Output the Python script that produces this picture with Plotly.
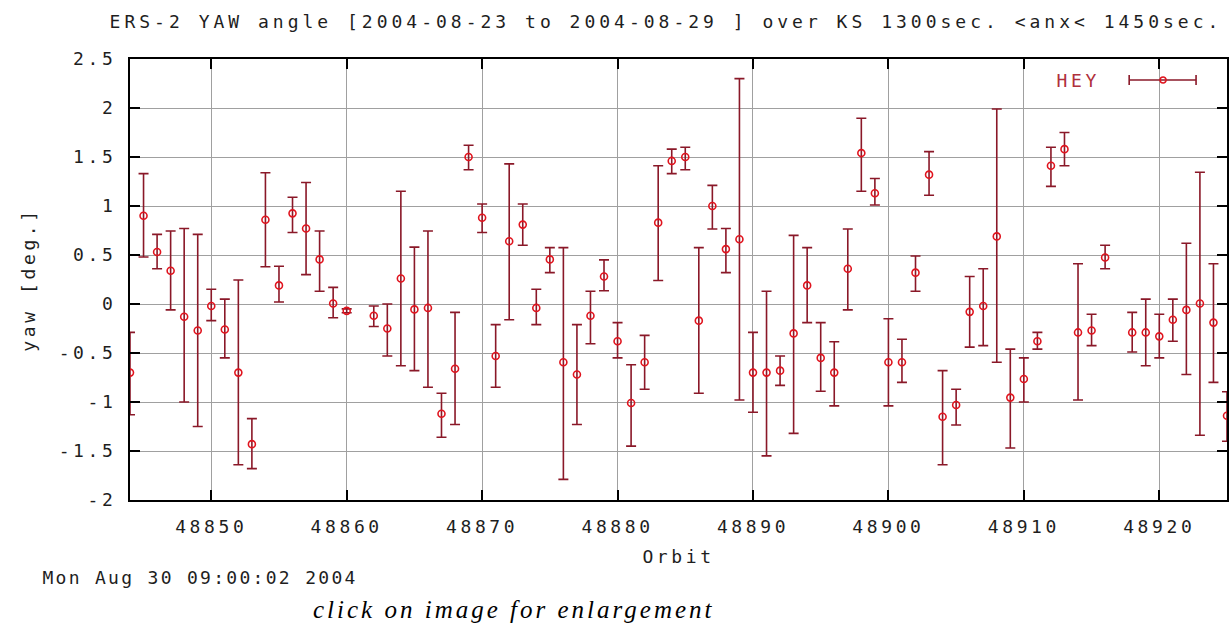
import plotly.graph_objects as go

# ---- data ----
orbits = [48844, 48845, 48846, 48847, 48848, 48849, 48850, 48851, 48852, 48853,
          48854, 48855, 48856, 48857, 48858, 48859, 48860, 48862, 48863, 48864,
          48865, 48866, 48867, 48868, 48869, 48870, 48871, 48872, 48873, 48874,
          48875, 48876, 48877, 48878, 48879, 48880, 48881, 48882, 48883, 48884,
          48885, 48886, 48887, 48888, 48889, 48890, 48891, 48892, 48893, 48894,
          48895, 48896, 48897, 48898, 48899, 48900, 48901, 48902, 48903, 48904,
          48905, 48906, 48907, 48908, 48909, 48910, 48911, 48912, 48913, 48914,
          48915, 48916, 48918, 48919, 48920, 48921, 48922, 48923, 48924, 48925]

yaw = [-0.70, 0.90, 0.53, 0.34, -0.13, -0.27, -0.02, -0.26, -0.70, -1.43,
       0.86, 0.19, 0.925, 0.77, 0.455, 0.005, -0.07, -0.12, -0.25, 0.26,
       -0.055, -0.04, -1.12, -0.66, 1.50, 0.88, -0.53, 0.64, 0.81, -0.04,
       0.455, -0.595, -0.72, -0.12, 0.28, -0.38, -1.01, -0.595, 0.83, 1.46,
       1.50, -0.17, 1.00, 0.56, 0.66, -0.70, -0.70, -0.68, -0.30, 0.19,
       -0.55, -0.70, 0.36, 1.54, 1.13, -0.595, -0.595, 0.32, 1.32, -1.15,
       -1.03, -0.08, -0.02, 0.69, -0.955, -0.765, -0.38, 1.41, 1.58, -0.29,
       -0.27, 0.475, -0.29, -0.29, -0.33, -0.16, -0.06, 0.005, -0.19, -1.14]

yaw_hi = [-0.29, 1.33, 0.71, 0.745, 0.77, 0.71, 0.15, 0.05, 0.245, -1.17,
          1.34, 0.385, 1.09, 1.24, 0.745, 0.17, -0.05, -0.02, 0.00, 1.15,
          0.58, 0.745, -0.91, -0.085, 1.62, 1.02, -0.21, 1.43, 1.02, 0.15,
          0.575, 0.575, -0.21, 0.13, 0.45, -0.19, -0.62, -0.32, 1.41, 1.58,
          1.60, 0.575, 1.21, 0.77, 2.30, -0.29, 0.13, -0.53, 0.70, 0.575,
          -0.19, -0.385, 0.765, 1.895, 1.28, -0.15, -0.36, 0.49, 1.555, -0.68,
          -0.87, 0.28, 0.36, 1.99, -0.46, -0.55, -0.29, 1.60, 1.75, 0.41,
          -0.105, 0.60, -0.085, 0.05, -0.105, 0.05, 0.62, 1.345, 0.41, -0.895]

yaw_lo = [-1.13, 0.48, 0.36, -0.06, -1.00, -1.25, -0.17, -0.55, -1.64, -1.68,
          0.38, 0.02, 0.73, 0.30, 0.13, -0.14, -0.09, -0.23, -0.53, -0.63,
          -0.68, -0.85, -1.36, -1.23, 1.37, 0.73, -0.85, -0.16, 0.60, -0.21,
          0.32, -1.79, -1.23, -0.405, 0.135, -0.55, -1.45, -0.87, 0.24, 1.33,
          1.37, -0.91, 0.765, 0.32, -0.98, -1.105, -1.55, -0.83, -1.32, -0.19,
          -0.89, -1.04, -0.06, 1.15, 1.01, -1.04, -0.80, 0.13, 1.11, -1.64,
          -1.235, -0.44, -0.425, -0.595, -1.47, -1.00, -0.46, 1.20, 1.41, -0.98,
          -0.425, 0.36, -0.49, -0.63, -0.55, -0.38, -0.72, -1.34, -0.80, -1.40]

y_tickvals = [-2, -1.5, -1, -0.5, 0, 0.5, 1, 1.5, 2, 2.5]
y_ticktext = ["-2", "-1.5", "-1", "-0.5", "0", "0.5", "1", "1.5", "2", "2.5"]
x_tickvals = [48850, 48860, 48870, 48880, 48890, 48900, 48910, 48920]
x_ticktext = ["48850", "48860", "48870", "48880", "48890", "48900", "48910", "48920"]

title_text = "ERS-2 YAW angle [2004-08-23 to 2004-08-29 ] over KS 1300sec. &lt;anx&lt; 1450sec."
timestamp_text = "Mon Aug 30 09:00:02 2004"
note_text = "click on image for enlargement"
series_name = "HEY"

err_plus = [h - v for h, v in zip(yaw_hi, yaw)]
err_minus = [v - l for v, l in zip(yaw, yaw_lo)]

BAR = "#8a1828"
MARK = "#e0141e"
MONO = "DejaVu Sans Mono"
TXT = "#1e1e1e"

fig = go.Figure()
fig.add_trace(go.Scatter(
    x=orbits, y=yaw, mode="markers", name=series_name, showlegend=False,
    marker=dict(symbol="circle-open", size=7, color=MARK, line=dict(width=1.6, color=MARK)),
    error_y=dict(type="data", symmetric=False, array=err_plus, arrayminus=err_minus,
                 color=BAR, thickness=1.6, width=5),
))

axis_common = dict(
    showgrid=True, gridcolor="#a0a0a0", gridwidth=1, zeroline=False,
    showline=True, linecolor="black", linewidth=2, mirror="ticks",
    ticks="inside", ticklen=10, tickwidth=2, tickcolor="black",
    tickfont=dict(family=MONO, size=18, color=TXT),
)

fig.update_layout(
    width=1229, height=630,
    margin=dict(l=130, r=0, t=59, b=130),
    paper_bgcolor="white", plot_bgcolor="white",
    title=dict(text=title_text, x=666 / 1229, xref="container", xanchor="center",
               y=1 - 22 / 630, yref="container", yanchor="middle",
               font=dict(family=MONO, size=18, color=TXT)),
    xaxis=dict(range=[48844, 48925], tickvals=x_tickvals, ticktext=x_ticktext,
               ticklabelstandoff=9,
               title=dict(text="Orbit", standoff=15,
                          font=dict(family=MONO, size=18, color=TXT)),
               **axis_common),
    yaxis=dict(range=[-2, 2.5], tickvals=y_tickvals, ticktext=y_ticktext,
               ticklabelstandoff=8,
               title=dict(text="yaw [deg.]", standoff=33,
                          font=dict(family=MONO, size=18, color=TXT)),
               **axis_common),
    showlegend=False,
)

# legend drawn like gnuplot's key: label + horizontal error-bar sample
ly = (500 - 80) / 441
fig.add_annotation(text=series_name, xref="paper", yref="paper",
                   x=(1080 - 130) / 1099, y=ly, xanchor="center", yanchor="middle",
                   showarrow=False, font=dict(family=MONO, size=18, color="#b0303c"))
x0, x1 = (1131 - 130) / 1099, (1198 - 130) / 1099
cap = 5 / 441
fig.add_shape(type="line", xref="paper", yref="paper", x0=x0, x1=x1, y0=ly, y1=ly,
              line=dict(color=BAR, width=1.6))
fig.add_shape(type="line", xref="paper", yref="paper", x0=x0, x1=x0, y0=ly - cap, y1=ly + cap,
              line=dict(color=BAR, width=1.6))
fig.add_shape(type="line", xref="paper", yref="paper", x0=x1, x1=x1, y0=ly - cap, y1=ly + cap,
              line=dict(color=BAR, width=1.6))
xm = (1165 - 130) / 1099
fig.add_shape(type="circle", xref="paper", yref="paper",
              x0=xm - 3 / 1099, x1=xm + 3 / 1099, y0=ly - 3 / 441, y1=ly + 3 / 441,
              line=dict(color=MARK, width=1.5))

fig.add_annotation(text=timestamp_text, xref="paper", yref="paper",
                   x=(200 - 130) / 1099, y=(500 - 577) / 441, xanchor="center", yanchor="middle",
                   showarrow=False, font=dict(family=MONO, size=18, color=TXT))
fig.add_annotation(text=note_text, xref="paper", yref="paper",
                   x=(515 - 130) / 1099, y=(500 - 609) / 441, xanchor="center", yanchor="middle",
                   showarrow=False,
                   font=dict(family="Liberation Serif", size=25, color="black", style="italic"))

# page without body margin; the reference font is a wide bitmap face, so widen glyph spacing
post = """
document.body.style.margin = '0';
var gd = document.getElementById('{plot_id}');
function widen(){
  gd.querySelectorAll('svg text').forEach(function(t){
    var s = t.textContent || '';
    var ls = '3.6px';
    if (s.indexOf('click on') === 0) ls = '3.0px';
    else if (s.indexOf('Mon ') === 0) ls = '2.3px';
    else if (s.indexOf('ERS-2') === 0) ls = '4.0px';
    t.style.letterSpacing = ls;
  });
}
widen();
gd.on('plotly_afterplot', widen);
"""

fig.write_html("out.html", post_script=post, config={"displayModeBar": False})
